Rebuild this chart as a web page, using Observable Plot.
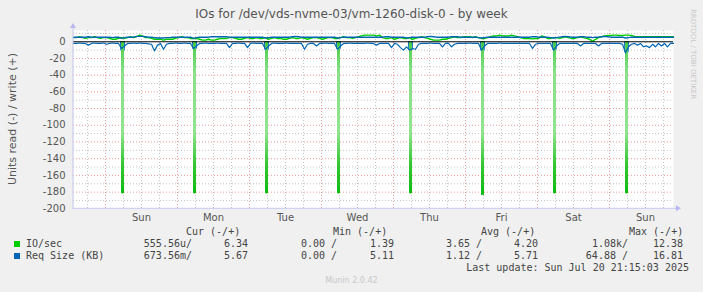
<!DOCTYPE html>
<html><head><meta charset="utf-8">
<script src="https://cdn.jsdelivr.net/npm/d3@7"></script>
<script src="https://cdn.jsdelivr.net/npm/@observablehq/plot@0.6"></script>
<style>
body{margin:0;background:#F0F0F0;}
#wrap{position:relative;width:703px;height:292px;background:#F0F0F0;overflow:hidden;font-family:"DejaVu Sans",sans-serif;}
#wrap svg{position:absolute;left:0;top:0;}
.t{position:absolute;white-space:pre;line-height:12px;}
.m{font-family:"DejaVu Sans Mono",monospace;font-size:10px;color:#444;}
</style></head><body><div id="wrap"></div>
<script>
// ---- Data (hours since Sat Jul 12 13:20, one sample per hour) ----
const title = "IOs for /dev/vds-nvme-03/vm-1260-disk-0 - by week";
const yLabel = "Units read (-) / write (+)";
const dayNames = ["Sun","Mon","Tue","Wed","Thu","Fri","Sat","Sun"];
const firstMidnightHour = 10.67;           // Sun Jul 13 00:00
const yTicks = [-200,-180,-160,-140,-120,-100,-80,-60,-40,-20,0];
const yMinorTicks = [-190,-170,-150,-130,-110,-90,-70,-50,-30,-10,10];

// IO/sec write (+)
const ioWrite = [
5,5,6,5,4,5,5,6,5,4,5,
5,4,3,3,4,5,4,5,6,5,
6,8,7,5,5,4,3,3,3,2,
3,3,3,4,5,6,5,5,4,4,
4,3,2,2,3,2,2,3,4,4,
4,5,5,4,3,3,4,5,4,4,
5,4,4,5,3,4,5,4,4,3,
3,4,5,4,4,5,4,3,4,5,
5,4,3,4,5,5,4,4,5,6,
5,5,4,5,6,7,8,8,8,8,
7,8,5,4,4,5,3,4,5,4,
4,5,3,4,5,6,5,4,3,2,
2,2,3,3,4,5,6,5,5,6,
6,6,5,6,5,4,4,5,6,7,
7,8,7,7,7,8,7,6,5,4,
4,4,3.5,4,4,7,6,4,4,5,
5,4,5,6,5,4,4,5,6,5,
4,3,0.5,3,5,6,7,7.5,7.5,8,
8,7.5,7.5,8,8,7.5,6.5,6,6,6,
6,6,6,6,6,6,6,6,6,6];
// Req Size write (+)
const reqWrite = [
5.5,5.5,5.5,5.5,5.5,6,5.5,5.5,5.5,5.5,5.5,
5.5,5.5,5,5.5,5.5,4,5,5.5,5.5,5.5,
6.5,6.5,6.5,6,5.5,5.5,5,4.5,4.5,4.5,
5,5,5.5,5.5,5.5,5.5,5.5,5.5,5.5,4,
5,5.5,5.5,5.5,5.5,6,6,6,6,6,
6,5.5,5.5,5.5,5.5,5.5,5.5,5.5,5.5,5.5,
5.5,5.5,5.5,4.5,5,5.5,5.5,5.5,5.5,5.5,
5.5,5.5,6,6.5,6,5.5,5.5,5.5,5.5,5.5,
5.5,5.5,5.5,5.5,5.5,5.5,5.5,4.5,5,5.5,
5.5,5.5,5.5,5.5,5.5,5.5,5.5,5.5,5.5,5.5,
5.5,5.5,5.5,6,6,5.5,5.5,5.5,5.5,5.5,
4.5,5,5.5,5.5,5.5,5.5,5.5,6,6.5,6,
5.5,5.5,5.5,5.5,5.5,6,6,6,5.5,5.5,
5.5,5.5,5.5,5.5,5,4.5,5,5.5,5.5,5.5,
5.5,5.5,5.5,5.5,5.5,5.5,5.5,5.5,5.5,5.5,
5.5,5.5,6,6,5.5,5.5,5.5,5.5,5,4.5,
5,5.5,6,6.5,6,5.5,5.5,5.5,6,6,
5.5,5.5,5,5.5,5.5,6,6.5,6,5.5,5.5,
5.5,5.5,5.5,4.5,5,5.5,5.5,5.5,5.5,5.5,
5.5,5.5,5.5,5.5,5.5,5.5,5.5,5.5,5.5,5.5];
// Req Size read (-), magnitudes
const reqRead = [
2,2,1.5,2,2,4,2,1.5,2,2,1.5,
3,2,1.5,2,2,8,5,2,2,1.5,
2,1.5,2,2,2.5,3,11,4,2,9,
3,2,2,1.5,2,2,1.5,2,2,8,
5,2,2,1.5,2,2,2,1.5,2,2,
2,7,2,2,1.5,2,2,7,2,1.5,
2,2,2,9,5,2,1.5,2,2,2,
1.5,2,2,2,2,2,9,3,2,2,
5,2,2,1.5,2,2,2,9,5,2,
2,1.5,2,2,2,2,2,1.5,2,2,
4,2,2,2,2,7,2,3,7,10,
6,10,8,9,3,2,2,2,1.5,2,
2,2,6,2,2,6,3,2,2,2,
2,1.5,2,2,2,10,5,2,2,2,
2,1.5,2,2,2,2,2,2,2,2,
2,2,8,3,2,2,2,2,2,10,
5,2,2,2,2,2,2,2,5,2,
2,2,2,2,5,2,2,2,2,2,
2,2,3,13,6,3,2,4,2,6,
5,7,3,6,2,5,2,6,2,2];
// Daily read spikes
const spikeHours = [16.33,40.33,64.33,88.33,112.33,136.33,160.33,184.33];
const ioReadSpike = [182,182,182,182,182,184,182,182];
const reqReadSpike = [11,9,10,9,10,11,10,13];

// Legend
const seriesNames = ["IO/sec","Req Size (KB)"];
const seriesColors = ["#00CC00","#0066B3"];
const curNeg = ["555.56u/","673.56m/"], curPos = ["6.34","5.67"];
const minNeg = ["0.00 /","0.00 /"], minPos = ["1.39","5.11"];
const avgNeg = ["3.65 /","1.12 /"], avgPos = ["4.20","5.71"];
const maxNeg = ["1.08k/","64.88 /"], maxPos = ["12.38","16.81"];
const colHeads = ["Cur (-/+)","Min (-/+)","Avg (-/+)","Max (-/+)"];
const lastUpdate = "Last update: Sun Jul 20 21:15:03 2025";

// ---- Derived ----
const hours = ioWrite.map((_, i) => i);
const dayBounds = dayNames.map((_, i) => firstMidnightHour + 24 * i);
const dayNoons = dayBounds.map(d => d + 12);
const minorX = d3.range(firstMidnightHour - 6, 200, 6).filter(h => !dayBounds.some(b => Math.abs(b - h) < 0.01));
const majorGridY = yTicks.filter(v => v > -200 && v < 0);

const axisColor = "#c6c6ee";

function defsMark(index, scales) {
  const defs = d3.create("svg:defs");
  const g = defs.append("linearGradient").attr("id","gsp").attr("gradientUnits","userSpaceOnUse")
    .attr("x1",0).attr("x2",0).attr("y1",scales.y(0)).attr("y2",scales.y(-182));
  [[0,"#44cc44"],[0.2,"#88e088"],[0.6,"#90e490"],[0.8,"#33c833"],[1,"#11bb11"]]
    .forEach(([o,c]) => g.append("stop").attr("offset",o).attr("stop-color",c));
  const b = defs.append("linearGradient").attr("id","bsp").attr("gradientUnits","userSpaceOnUse")
    .attr("x1",0).attr("x2",0).attr("y1",scales.y(0)).attr("y2",scales.y(-13));
  [[0,"#0066B3"],[1,"#5aa6d8"]].forEach(([o,c]) => b.append("stop").attr("offset",o).attr("stop-color",c));
  return defs.node();
}
function axesMark(index, scales, values, dim) {
  const g = d3.create("svg:g");
  const X0 = scales.x(0), Y0 = scales.y(-200), Xr = dim.width - dim.marginRight, Yt = dim.marginTop;
  g.append("line").attr("x1",X0).attr("x2",X0).attr("y1",Y0+0.5).attr("y2",Yt-2).attr("stroke",axisColor);
  g.append("line").attr("x1",X0).attr("x2",Xr+4).attr("y1",Y0).attr("y2",Y0).attr("stroke",axisColor);
  g.append("path").attr("d",`M${X0-3},${Yt-2}L${X0},${Yt-7}L${X0+3},${Yt-2}Z`).attr("fill","#b8b8f0");
  g.append("path").attr("d",`M${Xr+3},${Y0-3}L${Xr+8},${Y0}L${Xr+3},${Y0+3}Z`).attr("fill","#b8b8f0");
  return g.node();
}

const chart = Plot.plot({
  width: 703, height: 292,
  marginLeft: 73, marginRight: 30, marginTop: 30, marginBottom: 83.7,
  x: {domain: [0, 200], axis: null},
  y: {domain: [-200, 13.5], axis: null},
  style: {background: "transparent", overflow: "visible", fontFamily: "DejaVu Sans"},
  marks: [
    Plot.frame({fill: "white", stroke: "none"}),
    Plot.ruleY(yMinorTicks, {stroke: "#c4c4c4", strokeDasharray: "1,2"}),
    Plot.ruleX(minorX, {stroke: "#c4c4c4", strokeDasharray: "1,2"}),
    Plot.ruleY(majorGridY, {stroke: "#f09a9a", strokeDasharray: "1,2"}),
    Plot.ruleX(dayBounds, {stroke: "#f09a9a", strokeDasharray: "1,2"}),
    defsMark,
    Plot.ruleX(spikeHours, {x: d => d, y1: 0, y2: (d, i) => -reqReadSpike[i], stroke: "url(#bsp)", strokeWidth: 5}),
    Plot.ruleX(spikeHours, {x: d => d, y1: 0, y2: (d, i) => -ioReadSpike[i], stroke: "url(#gsp)", strokeWidth: 3}),
    Plot.line(hours, {x: d => d, y: (d, i) => -reqRead[i], stroke: "#0066B3", strokeWidth: 1.2}),
    Plot.line(hours, {x: d => d, y: (d, i) => ioWrite[i], stroke: "#00CC00", strokeWidth: 1.4}),
    Plot.line(hours, {x: d => d, y: (d, i) => reqWrite[i], stroke: "#0066B3", strokeWidth: 1.4}),
    Plot.ruleY([0], {stroke: "#000", strokeWidth: 1}),
    axesMark,
    Plot.axisY(yTicks, {tickSize: 0, tickPadding: 8, fontSize: 10, fill: "#555", tickFormat: d => String(d), label: null}),
    Plot.text(dayNames, {x: (d, i) => dayNoons[i], y: () => -200, dy: 8.5, lineAnchor: "middle", fontSize: 10, fill: "#555"})
  ]
});
const wrap = document.getElementById("wrap");
wrap.appendChild(chart);

function addText(txt, opts) {
  const d = document.createElement("div");
  d.className = "t " + (opts.cls || "");
  d.textContent = txt;
  Object.assign(d.style, opts.style || {});
  wrap.appendChild(d);
  return d;
}
// Title
addText(title, {style: {left: "0px", width: "703px", textAlign: "center", top: "7px", fontSize: "12px", lineHeight: "14px", color: "#555"}});
// Y label (rotated)
addText(yLabel, {style: {left: "11.5px", top: "119px", fontSize: "11px", lineHeight: "13px", color: "#555", transform: "translate(-50%,-50%) rotate(-90deg)"}});
// RRDTOOL side text
addText("RRDTOOL / TOBI OETIKER", {style: {left: "692px", top: "54px", fontSize: "7px", lineHeight: "9px", color: "#c8c8c8", transform: "translate(-50%,-50%) rotate(90deg)"}});
// Munin version
addText("Munin 2.0.42", {style: {left: "0px", width: "703px", textAlign: "center", top: "276px", fontSize: "8px", lineHeight: "10px", color: "#c8c8c8"}});

// Legend
const headLeft = [186, 333, 481, 629];
colHeads.forEach((h, i) => addText(h, {cls: "m", style: {left: headLeft[i] + "px", top: "226px"}}));
const rowTop = [238, 250];
const negEnds = [192, 337, 482, 628];
const posEnds = [248, 394, 538, 683];
seriesNames.forEach((name, r) => {
  const sq = document.createElement("div");
  Object.assign(sq.style, {position: "absolute", left: "14px", top: (rowTop[r] + 3) + "px", width: "6px", height: "6px", background: seriesColors[r]});
  wrap.appendChild(sq);
  addText(name, {cls: "m", style: {left: "26px", top: rowTop[r] + "px"}});
  [curNeg, minNeg, avgNeg, maxNeg].forEach((arr, c) =>
    addText(arr[r], {cls: "m", style: {right: (703 - negEnds[c]) + "px", top: rowTop[r] + "px", textAlign: "right"}}));
  [curPos, minPos, avgPos, maxPos].forEach((arr, c) =>
    addText(arr[r], {cls: "m", style: {right: (703 - posEnds[c]) + "px", top: rowTop[r] + "px", textAlign: "right"}}));
});
addText(lastUpdate, {cls: "m", style: {right: (703 - 689) + "px", top: "262px"}});
</script></body></html>
